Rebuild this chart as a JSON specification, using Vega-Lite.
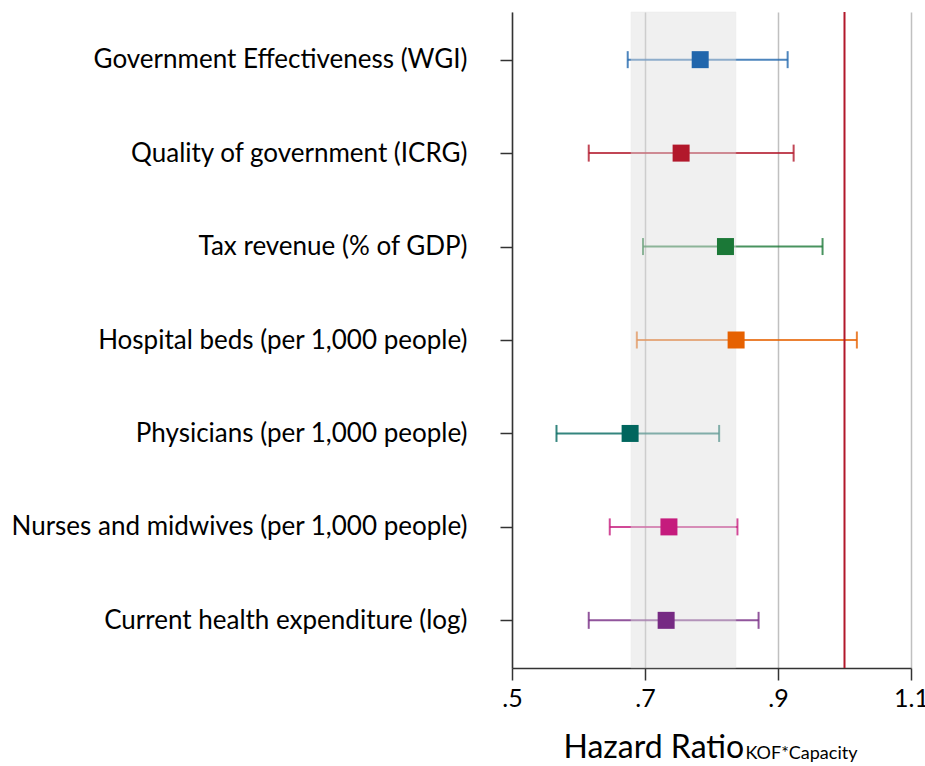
{
  "$schema": "https://vega.github.io/schema/vega-lite/v6.json",
  "autosize": {"type": "none"},
  "padding": {"left": 512, "top": 12, "right": 14, "bottom": 98},
  "width": 399,
  "height": 656,
  "config": {"view": {"stroke": null}, "font": "Lato"},
  "datasets": {
    "est": [
      {"measure": "Government Effectiveness (WGI)", "hr": 0.783, "lo": 0.674, "hi": 0.9145},
      {"measure": "Quality of government (ICRG)", "hr": 0.7543, "lo": 0.6154, "hi": 0.9235},
      {"measure": "Tax revenue (% of GDP)", "hr": 0.821, "lo": 0.697, "hi": 0.967},
      {"measure": "Hospital beds (per 1,000 people)", "hr": 0.837, "lo": 0.6877, "hi": 1.0186},
      {"measure": "Physicians (per 1,000 people)", "hr": 0.6776, "lo": 0.5669, "hi": 0.8115},
      {"measure": "Nurses and midwives (per 1,000 people)", "hr": 0.736, "lo": 0.647, "hi": 0.839},
      {"measure": "Current health expenditure (log)", "hr": 0.7318, "lo": 0.6154, "hi": 0.8708}
    ],
    "band": [{"lo": 0.679, "hi": 0.8366}],
    "ref": [{"x": 1}],
    "sub": [{"t": "KOF*Capacity", "x": 0.851}]
  },
  "layer": [
    {
      "data": {"name": "est"},
      "mark": {"type": "rule", "strokeWidth": 2, "opacity": 0.8},
      "encoding": {
        "y": {
          "field": "measure", "type": "nominal", "sort": null,
          "scale": {"type": "point", "padding": 0.51},
          "axis": {
            "title": null, "labelFontSize": 26, "labelColor": "#000", "labelPadding": 33,
            "tickSize": 12, "tickColor": "#333", "tickWidth": 1.5,
            "domainColor": "#333", "domainWidth": 1.5, "grid": false, "labelLimit": 600
          }
        },
        "x": {
          "field": "lo", "type": "quantitative",
          "scale": {"domain": [0.5, 1.1], "nice": false, "zero": false},
          "axis": {
            "values": [0.5, 0.7, 0.9, 1.1],
            "labelExpr": "datum.value < 1 ? substring(format(datum.value, '.1f'), 1) : format(datum.value, '.1f')",
            "labelFontSize": 25, "labelColor": "#000", "labelPadding": 6, "labelFlush": false,
            "grid": true, "gridColor": "#c0c0c0", "gridWidth": 1.5,
            "tickSize": 12, "tickColor": "#333", "tickWidth": 1.5,
            "domainColor": "#333", "domainWidth": 1.5,
            "title": "Hazard Ratio", "titleFontSize": 32, "titleFontWeight": "normal", "titleColor": "#000",
            "titleX": 51, "titleY": 89, "titleAlign": "left", "titleBaseline": "alphabetic", "titleAnchor": "start"
          }
        },
        "x2": {"field": "hi"},
        "color": {
          "field": "measure", "type": "nominal", "legend": null,
          "scale": {
            "domain": ["Government Effectiveness (WGI)", "Quality of government (ICRG)", "Tax revenue (% of GDP)", "Hospital beds (per 1,000 people)", "Physicians (per 1,000 people)", "Nurses and midwives (per 1,000 people)", "Current health expenditure (log)"],
            "range": ["#2166ac", "#b2182b", "#1b7837", "#e66101", "#01665e", "#c51b7d", "#762a83"]
          }
        }
      }
    },
    {
      "data": {"name": "est"},
      "mark": {"type": "tick", "thickness": 2, "size": 17, "opacity": 0.8},
      "encoding": {
        "y": {"field": "measure", "type": "nominal", "sort": null},
        "x": {"field": "lo", "type": "quantitative"},
        "color": {"field": "measure", "type": "nominal", "legend": null}
      }
    },
    {
      "data": {"name": "est"},
      "mark": {"type": "tick", "thickness": 2, "size": 17, "opacity": 0.8},
      "encoding": {
        "y": {"field": "measure", "type": "nominal", "sort": null},
        "x": {"field": "hi", "type": "quantitative"},
        "color": {"field": "measure", "type": "nominal", "legend": null}
      }
    },
    {
      "data": {"name": "band"},
      "mark": {"type": "rect", "color": "#dedede", "opacity": 0.45, "stroke": "#d6d6d6", "strokeWidth": 1, "strokeOpacity": 0.5},
      "encoding": {
        "x": {"field": "lo", "type": "quantitative"},
        "x2": {"field": "hi"}
      }
    },
    {
      "data": {"name": "ref"},
      "mark": {"type": "rule", "color": "#b2182b", "strokeWidth": 2},
      "encoding": {"x": {"field": "x", "type": "quantitative"}}
    },
    {
      "data": {"name": "est"},
      "mark": {"type": "point", "shape": "square", "filled": true, "size": 289, "opacity": 1},
      "encoding": {
        "y": {"field": "measure", "type": "nominal", "sort": null},
        "x": {"field": "hr", "type": "quantitative"},
        "color": {"field": "measure", "type": "nominal", "legend": null}
      }
    },
    {
      "data": {"name": "sub"},
      "mark": {"type": "text", "align": "left", "baseline": "alphabetic", "fontSize": 18, "color": "#000", "y": {"expr": "height + 91"}},
      "encoding": {
        "x": {"field": "x", "type": "quantitative"},
        "text": {"field": "t"}
      }
    }
  ]
}
